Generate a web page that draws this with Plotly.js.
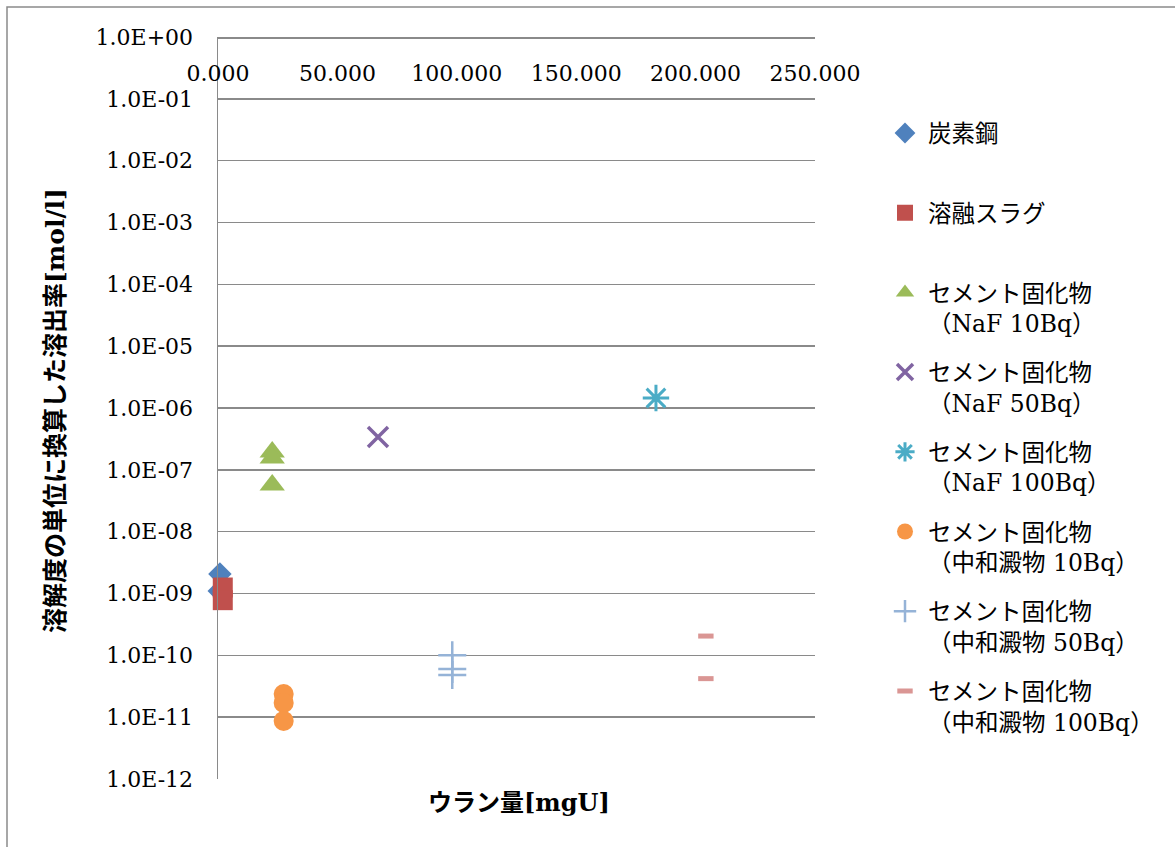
<!DOCTYPE html>
<html><head><meta charset="utf-8">
<script src="https://cdn.plot.ly/plotly-3.0.1.min.js"></script>
<style>html,body{margin:0;padding:0;background:#fff;}#chart{width:1175px;height:847px;}</style>
</head><body><div id="chart"></div>
<script>
// ---- data ----
const seriesNames = [
  "炭素鋼<br>\u00a0",
  "溶融スラグ<br>\u00a0",
  "セメント固化物<br>（NaF 10Bq）",
  "セメント固化物<br>（NaF 50Bq）",
  "セメント固化物<br>（NaF 100Bq）",
  "セメント固化物<br>（中和澱物 10Bq）",
  "セメント固化物<br>（中和澱物 50Bq）",
  "セメント固化物<br>（中和澱物 100Bq）"
];
const carbonSteelX = [0.8, 0.5];
const carbonSteelY = [2.07e-9, 1.1e-9];
const slagX = [2.0, 2.0];
const slagY = [1.25e-9, 7.8e-10];
const naf10X = [22.7, 22.7, 22.7];
const naf10Y = [1.94e-7, 1.55e-7, 5.7e-8];
const naf50X = [67.0];
const naf50Y = [3.4e-7];
const naf100X = [183.4];
const naf100Y = [1.45e-6];
const neut10X = [27.5, 27.5, 27.5];
const neut10Y = [2.36e-11, 1.7e-11, 8.7e-12];
const neut50X = [98.1, 98.1, 98.1];
const neut50Y = [1.0e-10, 6.0e-11, 4.8e-11];
const neut100X = [204.3, 204.3];
const neut100Y = [2.05e-10, 4.2e-11];

const yTickVals = [1e0,1e-1,1e-2,1e-3,1e-4,1e-5,1e-6,1e-7,1e-8,1e-9,1e-10,1e-11,1e-12];
const yTickText = ["1.0E+00","1.0E-01","1.0E-02","1.0E-03","1.0E-04","1.0E-05","1.0E-06","1.0E-07","1.0E-08","1.0E-09","1.0E-10","1.0E-11","1.0E-12"];
const xTickVals = [0, 50, 100, 150, 200, 250];
const xTickText = ["0.000","50.000","100.000","150.000","200.000","250.000"];

const xTitle = "ウラン量[mgU]";
const yTitle = "溶解度の単位に換算した溶出率[mol/l]";

// ---- styling ----
const FONT = "'DejaVu Serif', 'Noto Sans CJK JP', serif";
const GRID = "#8a8a8a";

function tr(i, x, y, marker) {
  return {type:'scatter', mode:'markers', x:x, y:y, name:seriesNames[i],
          legendgroup:'g'+i, marker:marker, cliponaxis:false};
}
const traces = [
  tr(0, carbonSteelX, carbonSteelY, {symbol:'diamond', size:18, color:'#4F81BD'}),
  tr(1, slagX, slagY, {symbol:'square', size:20, color:'#C0504D'}),
  tr(2, naf10X, naf10Y, {symbol:'triangle-up', size:22, color:'#9BBB59'}),
  tr(3, naf50X, naf50Y, {symbol:'x-thin-open', size:20, color:'#8064A2', line:{color:'#8064A2', width:3.5}}),
  tr(4, naf100X, naf100Y, {symbol:'asterisk-open', size:22, color:'#4BACC6', line:{color:'#4BACC6', width:3}}),
  tr(5, neut10X, neut10Y, {symbol:'circle', size:20, color:'#F79646'}),
  tr(6, neut50X, neut50Y, {symbol:'cross-thin-open', size:20, color:'#95B3D7', line:{color:'#95B3D7', width:2.5}}),
  tr(7, neut100X, neut100Y, {symbol:'line-ew-open', size:11, color:'#DA9694', line:{color:'#DA9694', width:5}})
];

const layout = {
  width:1175, height:847,
  margin:{l:218, r:360, t:37, b:68},
  paper_bgcolor:'#fff', plot_bgcolor:'#fff',
  font:{family:FONT, color:'#000'},
  showlegend:true,
  xaxis:{
    range:[0,250], anchor:'free', position:1, side:'bottom',
    tickvals:xTickVals, ticktext:xTickText, ticks:'',
    showgrid:false, zeroline:false, showline:true, linecolor:GRID, linewidth:1.5,
    tickfont:{family:FONT, size:22, color:'#000'}, ticklabelstandoff:16
  },
  yaxis:{
    type:'log', range:[-12,0],
    tickvals:yTickVals, ticktext:yTickText, ticks:'',
    showgrid:true, gridcolor:GRID, gridwidth:1.5, zeroline:false,
    showline:true, linecolor:GRID, linewidth:1.5,
    tickfont:{family:FONT, size:22, color:'#000'}, ticklabelstandoff:19
  },
  legend:{
    x:(882-218)/597, xanchor:'left', y:0.90, yanchor:'top',
    font:{family:FONT, size:23.5, color:'#000'},
    valign:'top', tracegroupgap:15.6, itemsizing:'trace', itemwidth:36,
    bgcolor:'rgba(0,0,0,0)', borderwidth:0
  },
  annotations:[
    {text:'<b>'+xTitle+'</b>', xref:'paper', yref:'paper', x:(519-218)/597, y:(779-802)/742,
     xanchor:'center', yanchor:'middle', showarrow:false, font:{family:FONT, size:24, color:'#000'}},
    {text:'<b>'+yTitle+'</b>', xref:'paper', yref:'paper', x:(55-218)/597, y:(779-411)/742,
     xanchor:'center', yanchor:'middle', textangle:-90, showarrow:false, font:{family:FONT, size:25, color:'#000'}}
  ],
  shapes:[
    {type:'path', xref:'paper', yref:'paper',
     path:'M '+((7-218)/597)+' -1 L '+((7-218)/597)+' '+((779-7)/742)+' L 2 '+((779-7)/742),
     line:{color:GRID, width:1.5}}
  ]
};

Plotly.newPlot('chart', traces, layout, {displayModeBar:false, staticPlot:true});
</script>
</body></html>
